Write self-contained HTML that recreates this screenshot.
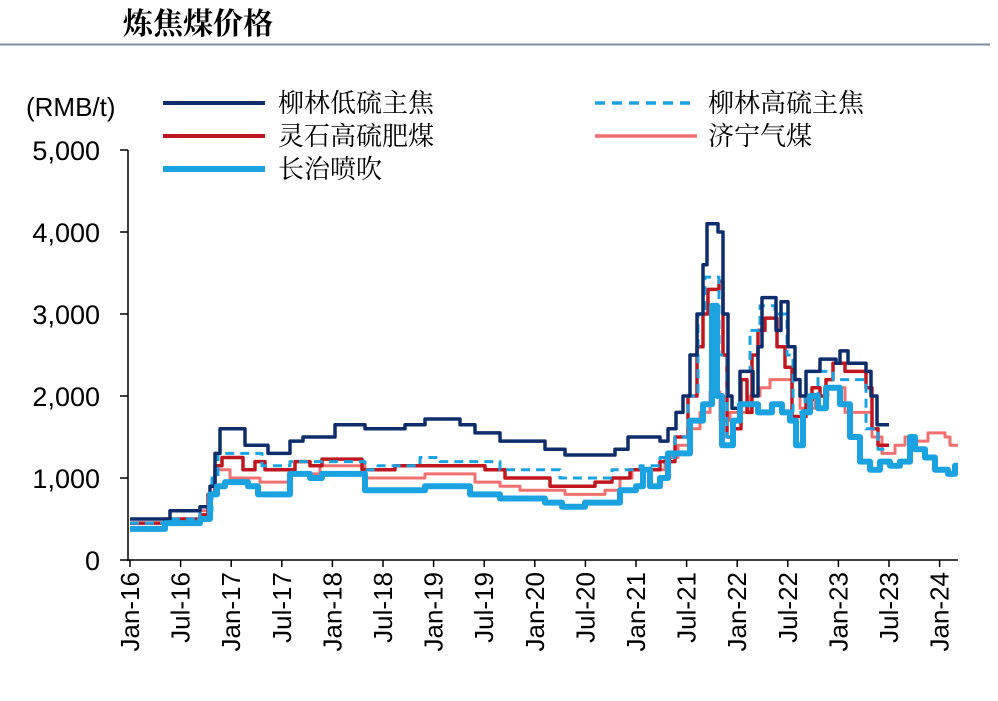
<!DOCTYPE html><html><head><meta charset="utf-8"><style>
body{margin:0;background:#fff;width:998px;height:696px;overflow:hidden;font-family:"Liberation Sans","Noto Sans CJK SC",sans-serif}
</style></head><body>
<svg id="s" width="998" height="696" xmlns="http://www.w3.org/2000/svg" font-family="Liberation Sans, Noto Sans CJK SC, sans-serif">
<text x="123" y="34" font-size="30" font-weight="bold" font-family="Noto Serif CJK SC, Noto Sans CJK SC, serif">炼焦煤价格</text>
<line x1="0" y1="44.5" x2="990" y2="44.5" stroke="#7f8fa6" stroke-width="2"/>
<text x="26" y="116" font-size="26">(RMB/t)</text>
<g font-size="27" text-anchor="end">
<text x="100" y="160">5,000</text><text x="100" y="242">4,000</text><text x="100" y="324">3,000</text><text x="100" y="406">2,000</text><text x="100" y="488">1,000</text><text x="100" y="570">0</text>
</g>
<g stroke="#000" stroke-width="1.5">
<line x1="128" y1="150" x2="128" y2="561"/><line x1="127" y1="560" x2="958" y2="560"/>
<line x1="120" y1="150" x2="128" y2="150"/><line x1="120" y1="232" x2="128" y2="232"/><line x1="120" y1="314" x2="128" y2="314"/><line x1="120" y1="396" x2="128" y2="396"/><line x1="120" y1="478" x2="128" y2="478"/><line x1="120" y1="560" x2="128" y2="560"/>
</g>
<g id="xt"></g>
<g font-size="26" font-family="Noto Serif CJK SC, Noto Sans CJK SC, serif">
<line x1="163" y1="103" x2="265" y2="103" stroke="#0d2d6b" stroke-width="4"/><text x="278" y="112">柳林低硫主焦</text>
<line x1="163" y1="136" x2="265" y2="136" stroke="#c0161f" stroke-width="4"/><text x="278" y="145">灵石高硫肥煤</text>
<line x1="163" y1="169" x2="265" y2="169" stroke="#1aa3e0" stroke-width="6"/><text x="278" y="178">长治喷吹</text>
<line x1="595" y1="103" x2="697" y2="103" stroke="#1aa3e0" stroke-width="3.5" stroke-dasharray="10,7"/><text x="708" y="112">柳林高硫主焦</text>
<line x1="595" y1="136" x2="697" y2="136" stroke="#f07070" stroke-width="3.5"/><text x="708" y="145">济宁气煤</text>
</g>
<g id="ser" fill="none" stroke-linejoin="round"></g>
</svg>
<script>
var NS="http://www.w3.org/2000/svg";
var xt=document.getElementById('xt');
var labs=["Jan-16","Jul-16","Jan-17","Jul-17","Jan-18","Jul-18","Jan-19","Jul-19","Jan-20","Jul-20","Jan-21","Jul-21","Jan-22","Jul-22","Jan-23","Jul-23","Jan-24"];
labs.forEach(function(l,i){var x=130+i*50.6;
var ln=document.createElementNS(NS,'line');ln.setAttribute('x1',x);ln.setAttribute('x2',x);ln.setAttribute('y1',560);ln.setAttribute('y2',567);ln.setAttribute('stroke','#000');ln.setAttribute('stroke-width','1.5');xt.appendChild(ln);
var t=document.createElementNS(NS,'text');t.setAttribute('font-size','26');t.setAttribute('text-anchor','end');t.setAttribute('transform','translate('+(x+9)+',572) rotate(-90)');t.textContent=l;xt.appendChild(t);});
function Y(v){return 560-v*0.082;}
function path(d){var s='M'+d[0]+' '+Y(d[1]);for(var i=2;i<d.length;i+=2){s+=' H'+d[i]+' V'+Y(d[i+1]);}return s;}
var S=[
{c:"#f07070",w:3,d:[130,450,170,500,200,600,210,800,215,1100,230,1000,260,950,290,1050,320,1150,365,1000,425,1050,475,950,500,900,520,850,565,800,605,850,620,1000,632,1100,665,1250,678,1400,690,1600,700,1800,710,2050,720,1700,730,1800,750,2000,760,2100,770,2200,800,1850,815,2000,828,2100,845,1800,872,1500,882,1300,895,1400,905,1500,915,1450,928,1550,945,1500,950,1400,958,1400]},
{c:"#c0161f",w:3.5,d:[130,450,165,500,200,550,208,800,215,1150,222,1250,243,1100,255,1200,265,1100,295,1200,310,1150,322,1230,362,1100,395,1150,485,1100,505,1000,550,900,595,950,612,1000,630,1100,660,1200,675,1500,688,2000,697,2600,703,3000,708,3300,719,3400,723,2500,727,1500,733,1600,741,2200,747,1800,752,2500,758,2800,765,2950,777,2600,785,2350,792,1750,806,1950,812,2100,820,2000,826,2200,833,2400,845,2300,866,2100,872,1600,878,1400,889,1400]},
{c:"#1aa3e0",w:3,dash:"9,6",d:[130,450,170,500,200,600,212,1000,218,1300,262,1150,290,1200,365,1100,378,1150,420,1250,440,1200,500,1100,560,1000,612,1100,640,1150,660,1250,675,1500,688,2000,698,3000,705,3450,719,2500,727,1500,733,1700,740,2300,750,2800,760,3100,775,3000,787,2500,793,1800,805,2000,818,2300,833,2200,866,1600,878,1350,889,1350]},
{c:"#0d2d6b",w:3.5,d:[130,500,170,600,200,650,210,900,215,1300,220,1600,245,1400,268,1300,290,1450,303,1500,335,1650,365,1600,405,1650,425,1720,460,1650,475,1550,500,1450,545,1350,565,1280,615,1350,628,1500,660,1450,668,1600,676,1800,683,2000,690,2500,697,3000,703,3600,707,4100,718,4000,723,3000,728,2000,732,1850,740,2300,753,2000,758,2600,762,3200,776,2800,781,3150,788,2600,795,2200,800,2000,806,2300,820,2450,836,2400,840,2550,848,2400,866,2300,871,2000,877,1650,889,1650]},
{c:"#1aa3e0",w:6,d:[130,380,165,450,200,500,210,800,217,900,225,950,248,900,258,800,290,1050,310,1000,322,1050,365,850,425,900,470,800,500,750,545,700,562,650,585,700,620,850,636,900,643,1100,650,900,660,1000,668,1300,690,1700,703,1900,712,3100,717,2000,722,1400,733,1700,740,1900,758,1800,772,1900,782,1800,790,1700,796,1400,803,1800,810,2000,818,1850,826,2100,840,1900,850,1500,860,1200,870,1100,880,1200,890,1150,900,1200,910,1500,915,1350,925,1250,935,1100,948,1050,955,1150,958,1150]}
];
var g=document.getElementById('ser');
S.forEach(function(s){var p=document.createElementNS(NS,'path');p.setAttribute('d',path(s.d));p.setAttribute('stroke',s.c);p.setAttribute('stroke-width',s.w);if(s.dash)p.setAttribute('stroke-dasharray',s.dash);g.appendChild(p);});
</script>
</body></html>
